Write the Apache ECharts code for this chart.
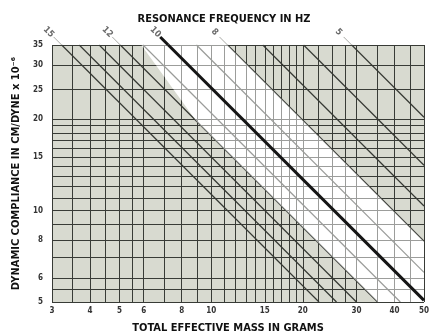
<!DOCTYPE html>
<html>
<head>
<meta charset="utf-8">
<script src="https://cdn.jsdelivr.net/npm/echarts@6/dist/echarts.min.js"></script>
<style>
  html, body { margin: 0; padding: 0; background: #fff; }
  #chart { width: 435px; height: 335px; }
</style>
</head>
<body>
<div id="chart"></div>
<script>
// axis labels
const massTicks = [3, 4, 5, 6, 8, 10, 15, 20, 30, 40, 50];
const complianceTicks = [5, 6, 8, 10, 15, 20, 25, 30, 35];
// ruled grid of the printed chart
const massGrid = [3, 3.5, 4, 4.5, 5, 5.5, 6, 7, 8, 9, 10, 11, 12, 13, 14, 15, 16, 17, 18, 19, 20, 22.5, 25, 27.5, 30, 35, 40, 45, 50];
const complianceGrid = [5, 5.5, 6, 7, 8, 9, 10, 11, 12, 13, 14, 15, 16, 17, 18, 19, 20, 25, 30, 35];
// resonance lines: frequency (Hz) and mass x compliance product along each line
const freqs = [15, 14, 13, 12, 11, 10, 9, 8, 7, 6, 5];
const massTimesCompliance = [113, 129, 150, 176, 209, 253, 313, 396, 517, 704, 1013];
const labelledFreqs = [15, 12, 10, 8, 5];
// unshaded (recommended) band, [mass, compliance] corners
const whiteBand = [[5.9, 35], [9.0, 19.5], [35.2, 5], [50, 5], [50, 7.9], [11.3, 35]];

const FONT = '"Liberation Sans Narrow", "DejaVu Sans Condensed", "Roboto Condensed", sans-serif';

function lineEnds(p) {
  const start = p / 35 >= 3 ? [p / 35, 35] : [3, p / 3];
  const end = p / 5 <= 50 ? [p / 5, 5] : [50, p / 50];
  return [start, end];
}

function bandSeries(name, color, z, extra) {
  return Object.assign({
    name: name,
    type: 'custom',
    z: z,
    silent: true,
    data: [0],
    renderItem: (params, api) => ({
      type: 'polygon',
      shape: { points: whiteBand.map(p => api.coord(p)) },
      style: { fill: color }
    })
  }, extra || {});
}

const series = [];
series.push(bandSeries('band', '#ffffff', 1, {
  markLine: {
    silent: true,
    z: 2,
    symbol: 'none',
    label: { show: false },
    lineStyle: { color: '#383b36', width: 1, type: 'solid', opacity: 1 },
    emphasis: { disabled: true },
    data: massGrid.map(v => ({ xAxis: v })).concat(complianceGrid.map(v => ({ yAxis: v })))
  }
}));

freqs.forEach((f, i) => {
  const p = massTimesCompliance[i];
  const thick = f === 10;
  series.push({
    name: f + ' Hz',
    type: 'line',
    z: thick ? 5 : 2,
    silent: true,
    symbol: 'none',
    lineStyle: { color: thick ? '#151515' : '#353833', width: thick ? 3 : 1.2 },
    data: lineEnds(p)
  });
  if (labelledFreqs.indexOf(f) >= 0) {
    series.push({
      name: f + ' Hz ext',
      type: 'line',
      z: 5,
      silent: true,
      clip: false,
      symbol: 'none',
      lineStyle: { color: thick ? '#151515' : '#a9aaa6', width: thick ? 3 : 1 },
      data: [[p / 35, 35], [p / 37.2, 37.2]]
    });
    series.push({
      name: f + ' Hz label',
      type: 'scatter',
      z: 6,
      silent: true,
      clip: false,
      symbolSize: 0,
      data: [[p / 38.6, 38.6]],
      label: {
        show: true,
        position: 'inside',
        rotate: -45,
        formatter: String(f),
        fontFamily: FONT,
        fontWeight: 'bold',
        fontSize: 9,
        color: '#444'
      }
    });
  }
});

series.push(bandSeries('band veil', 'rgba(255,255,255,0.5)', 3));

const chart = echarts.init(document.getElementById('chart'));
chart.setOption({
  animation: false,
  backgroundColor: '#ffffff',
  grid: {
    show: true,
    left: 52, top: 45, width: 372, height: 257,
    backgroundColor: '#d8dad0',
    borderWidth: 0
  },
  xAxis: {
    type: 'log',
    logBase: 10,
    min: 3, max: 50,
    axisLine: { show: false },
    axisTick: { show: false },
    splitLine: { show: false },
    axisLabel: {
      customValues: massTicks,
      formatter: v => String(Math.round(v)),
      margin: 5,
      fontFamily: FONT,
      fontWeight: 'bold',
      fontSize: 8,
      color: '#333'
    }
  },
  yAxis: {
    type: 'log',
    logBase: 10,
    min: 5, max: 35,
    axisLine: { show: false },
    axisTick: { show: false },
    splitLine: { show: false },
    name: 'DYNAMIC COMPLIANCE IN CM/DYNE x 10⁻⁶',
    nameLocation: 'middle',
    nameGap: 30,
    nameTextStyle: { fontFamily: FONT, fontWeight: 'bold', fontSize: 11, color: '#111' },
    axisLabel: {
      customValues: complianceTicks,
      formatter: v => String(Math.round(v)),
      margin: 9,
      fontFamily: FONT,
      fontWeight: 'bold',
      fontSize: 8,
      color: '#333'
    }
  },
  graphic: [
    {
      type: 'text', x: 224, y: 19,
      style: { text: 'RESONANCE FREQUENCY IN HZ', align: 'center', verticalAlign: 'middle',
        font: 'bold 11px ' + FONT, fill: '#111' }
    },
    {
      type: 'text', x: 228, y: 328,
      style: { text: 'TOTAL EFFECTIVE MASS IN GRAMS', align: 'center', verticalAlign: 'middle',
        font: 'bold 11px ' + FONT, fill: '#111' }
    }
  ],
  series: series
});
window.addEventListener('resize', () => chart.resize());
</script>
</body>
</html>
